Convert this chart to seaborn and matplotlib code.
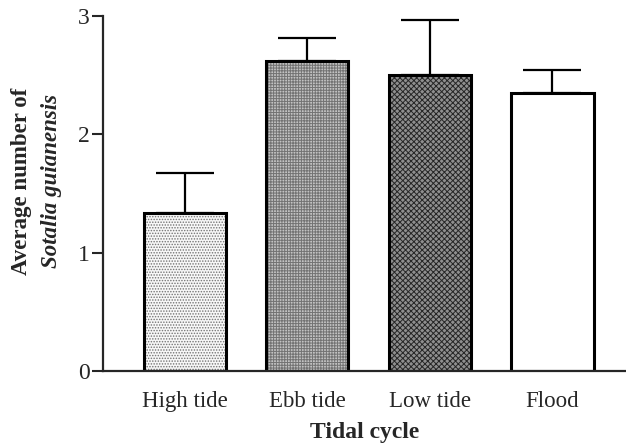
import matplotlib
matplotlib.use("Agg")
import matplotlib.pyplot as plt
from matplotlib.colors import to_rgba
import seaborn as sns
import pandas as pd
import numpy as np

categories = ["High tide", "Ebb tide", "Low tide", "Flood"]
means = [1.33, 2.62, 2.50, 2.35]
errors = [0.34, 0.19, 0.46, 0.19]
y_ticks = [0, 1, 2, 3]

sns.set_style("ticks")
plt.rcParams['font.family'] = ['Liberation Serif', 'DejaVu Serif']
plt.rcParams['hatch.linewidth'] = 0.7

fig = plt.figure(figsize=(6.26, 4.47), dpi=100)
ax = fig.add_axes([0.1645, 0.17, 0.8355, 0.795])

df = pd.DataFrame({"cycle": categories, "mean": means})
sns.barplot(data=df, x="cycle", y="mean", order=categories, width=0.67,
            color="white", edgecolor="black", linewidth=2.2, errorbar=None, ax=ax)

faces = [(0.97, 0.97, 0.97), (0.76, 0.76, 0.76), (0.56, 0.56, 0.56), (1, 1, 1)]
hatch_cols = [(0.45, 0.45, 0.45), (0.45, 0.45, 0.45), (0.15, 0.15, 0.15), (0, 0, 0)]
hatches = ["......", "++++++", "xxxxxx", ""]
for p, fc, h, hc in zip(ax.patches, faces, hatches, hatch_cols):
    p.set_facecolor(fc)
    p.set_hatch(h)
    try:
        p.set_hatchcolor(hc)
    except AttributeError:
        p._hatch_color = to_rgba(hc)
    p.set_zorder(2)

ax.errorbar(x=np.arange(len(categories)), y=means,
            yerr=[np.zeros(len(errors)), errors], fmt="none",
            ecolor="black", elinewidth=1.6, capsize=21, capthick=1.6, zorder=1)

ax.set_ylim(0, 3)
ax.set_xlim(-0.668, 3.6)
ax.set_yticks(y_ticks)
ax.set_yticklabels([str(t) for t in y_ticks], fontsize=17)
ax.tick_params(axis="y", length=8, width=1.5, pad=1.5)
ax.tick_params(axis="x", length=0, pad=14.5, labelsize=16.5)
for s in ["top", "right"]:
    ax.spines[s].set_visible(False)
for s in ["left", "bottom"]:
    ax.spines[s].set_linewidth(1.6)

ax.set_xlabel("Tidal cycle", fontsize=17, fontweight="bold", labelpad=7)
ax.set_ylabel("")
fig.text(0.035, 0.595, "Average number of", rotation=90, ha="center", va="center",
         fontsize=16.5, fontweight="bold")
fig.text(0.083, 0.595, "Sotalia guianensis", rotation=90, ha="center", va="center",
         fontsize=16.5, fontweight="bold", fontstyle="italic")

fig.savefig("out.png", dpi=100)
